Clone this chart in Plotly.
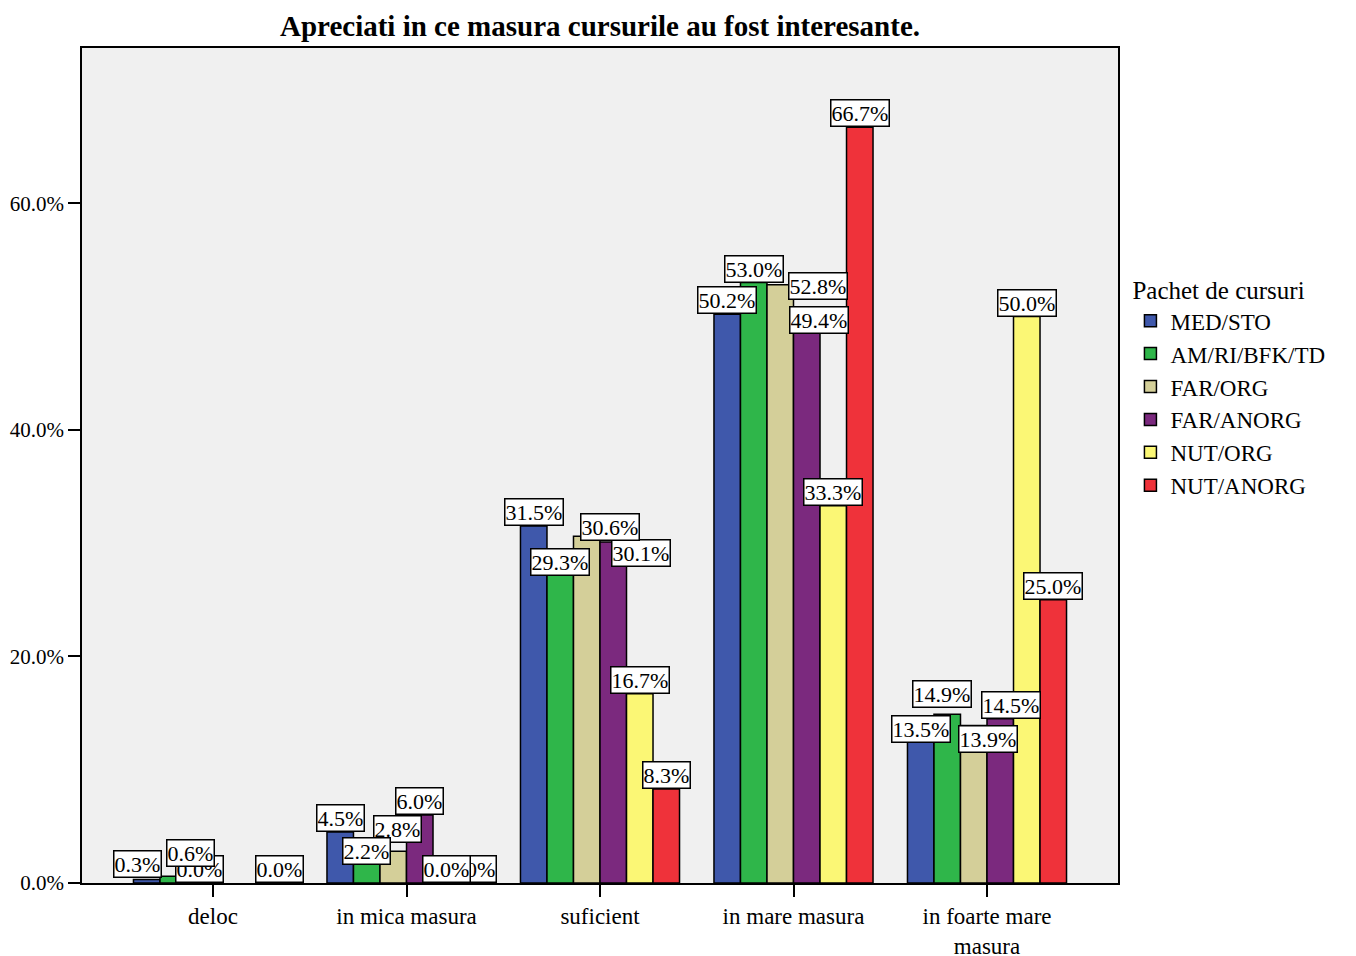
import plotly.graph_objects as go

# survey answers (x categories) and course packages (series)
categories = ["deloc", "in mica masura", "suficient", "in mare masura", "in foarte mare<br>masura"]
packages = ["MED/STO", "AM/RI/BFK/TD", "FAR/ORG", "FAR/ANORG", "NUT/ORG", "NUT/ANORG"]

med_sto = [0.3, 4.5, 31.5, 50.2, 13.5]
am_ri_bfk_td = [0.6, 2.2, 29.3, 53.0, 14.9]
far_org = [0.0, 2.8, 30.6, 52.8, 13.9]
far_anorg = [None, 6.0, 30.1, 49.4, 14.5]
nut_org = [None, 0.0, 16.7, 33.3, 50.0]
nut_anorg = [0.0, 0.0, 8.3, 66.7, 25.0]

y_ticks = [0, 20, 40, 60]

series = [med_sto, am_ri_bfk_td, far_org, far_anorg, nut_org, nut_anorg]
colors = ["#3f58ab", "#2fb64a", "#d4cf99", "#7b297e", "#fbf775", "#ef323a"]

# label nudges (px) where labels were moved to avoid collisions: (series, category) -> (dx, dy)
nudges = {
    (0, 0): (-9, 2), (1, 0): (17, 9),
    (1, 1): (0, -7), (2, 1): (4, 8),
    (1, 2): (0, -25), (2, 2): (23, -5), (3, 2): (28, -25),
    (2, 3): (38, -15), (3, 3): (12, -11),
    (0, 4): (0, -13), (1, 4): (-5, 6), (2, 4): (14, -27), (3, 4): (11, 0),
}

font = "Liberation Serif"
fig = go.Figure()
for name, vals, col in zip(packages, series, colors):
    fig.add_trace(go.Bar(x=categories, y=vals, name=name,
                         marker=dict(color=col, line=dict(color="black", width=1.5))))

bar_px = 26.5
# later series first, so earlier labels sit on top where they collide
for i in reversed(range(len(series))):
    for j, v in enumerate(series[i]):
        if v is None:
            continue
        dx, dy = nudges.get((i, j), (0, 0))
        fig.add_annotation(x=categories[j], y=v, text=f"{v:.1f}%", showarrow=False,
                           xref="x", yref="y", yanchor="bottom",
                           xshift=(i - 2.5) * bar_px + dx, yshift=dy,
                           bgcolor="white", bordercolor="black", borderwidth=1.5, borderpad=0,
                           font=dict(family=font, size=22, color="black"))

fig.update_layout(
    width=1348, height=948,
    margin=dict(l=74, r=238, t=40, b=73),
    paper_bgcolor="white", plot_bgcolor="#f0f0f0",
    barmode="group", bargap=0.178, bargroupgap=0,
    title=dict(text="<b>Apreciati in ce masura cursurile au fost interesante.</b>",
               x=(74 + 1110) / 2 / 1348, xanchor="center", y=0.992, yanchor="top",
               font=dict(family=font, size=29, color="black")),
    legend=dict(title=dict(text="Pachet de cursuri", side="top", font=dict(family=font, size=25)),
                x=1.012, y=0.738, xanchor="left", yanchor="top",
                font=dict(family=font, size=23, color="black"),
                bgcolor="rgba(0,0,0,0)", itemwidth=30, tracegroupgap=0),
    showlegend=True,
)
fig.update_xaxes(range=[-0.677, 4.677], showline=True, linecolor="black", linewidth=1.5, mirror=True,
                 ticks="outside", ticklen=12, tickcolor="black", tickwidth=2, automargin=False,
                 tickfont=dict(family=font, size=23, color="black"), showgrid=False)
fig.update_yaxes(range=[0, 73.7], tickvals=y_ticks, ticktext=[f"{t:.1f}%" for t in y_ticks],
                 showline=True, linecolor="black", linewidth=1.5, mirror=True,
                 ticks="outside", ticklen=12, tickcolor="black", tickwidth=2, automargin=False,
                 tickfont=dict(family=font, size=21, color="black"), showgrid=False, zeroline=False)

fig.write_html("out.html")
